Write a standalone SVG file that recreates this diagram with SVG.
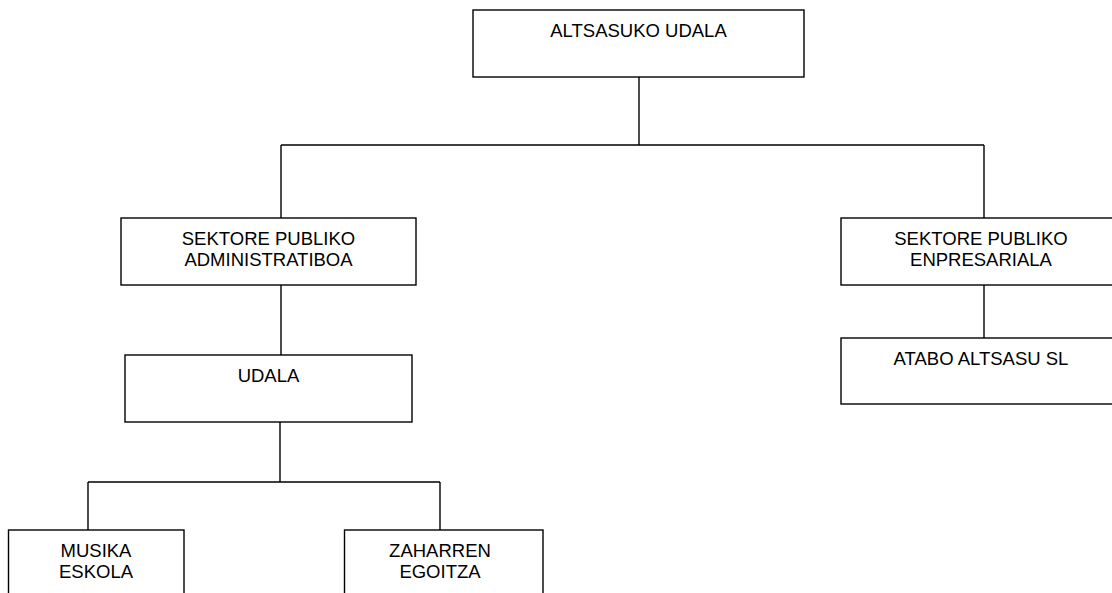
<svg xmlns="http://www.w3.org/2000/svg" width="1112" height="593" viewBox="0 0 1112 593">
<style>
.box{fill:#fff;stroke:#000;stroke-width:1.4}
.ln{fill:none;stroke:#000;stroke-width:1.4}
text{font-family:"Liberation Sans",Arial,sans-serif;font-size:18.5px;fill:#000;text-anchor:middle}
</style>
<rect width="1112" height="593" fill="#fff"/>
<g id="connectors">
<path class="ln" d="M639,77 V145 M281,145 H984 M281,145 V218 M984,145 V218"/>
<path class="ln" d="M281,285 V355"/>
<path class="ln" d="M984,285 V338"/>
<path class="ln" d="M280,422 V482 M88,482 H440 M88,482 V530 M440,482 V530"/>
</g>
<g id="node-altsasuko">
<rect class="box" x="473" y="10" width="331" height="67"/>
<text x="638.5" y="37">ALTSASUKO UDALA</text>
</g>
<g id="node-administratiboa">
<rect class="box" x="121" y="218" width="295" height="67"/>
<text x="268.5" y="245">SEKTORE PUBLIKO</text>
<text x="268.5" y="266">ADMINISTRATIBOA</text>
</g>
<g id="node-enpresariala">
<rect class="box" x="841" y="218" width="280" height="67"/>
<text x="981" y="245">SEKTORE PUBLIKO</text>
<text x="981" y="266">ENPRESARIALA</text>
</g>
<g id="node-udala">
<rect class="box" x="125" y="355" width="287" height="67"/>
<text x="268.5" y="382">UDALA</text>
</g>
<g id="node-atabo">
<rect class="box" x="841" y="338" width="280" height="66"/>
<text x="981" y="365">ATABO ALTSASU SL</text>
</g>
<g id="node-musika">
<rect class="box" x="8.5" y="530" width="175.5" height="80"/>
<text x="96" y="556.5">MUSIKA</text>
<text x="96" y="577.5">ESKOLA</text>
</g>
<g id="node-zaharren">
<rect class="box" x="344.5" y="530" width="198.5" height="80"/>
<text x="440" y="556.5">ZAHARREN</text>
<text x="440" y="577.5">EGOITZA</text>
</g>
</svg>
